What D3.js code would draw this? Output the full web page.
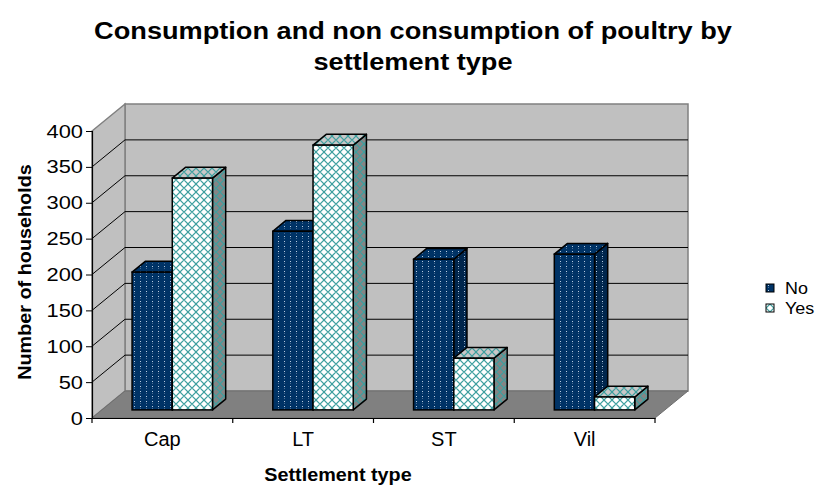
<!DOCTYPE html>
<html>
<head>
<meta charset="utf-8">
<script src="https://cdn.jsdelivr.net/npm/d3@7"></script>
<style>
  body { margin: 0; background: #fff; }
  text { font-family: "Liberation Sans", Arial, sans-serif; }
</style>
</head>
<body>
<div id="chart"></div>
<script>
const w = 826;
const h = 492;

// data
const categories = ["Cap", "LT", "ST", "Vil"];
const seriesNames = ["No", "Yes"];
const noValues = [192, 249, 210, 217];
const yesValues = [323, 369, 72, 18];
const yTicks = [0, 50, 100, 150, 200, 250, 300, 350, 400];

// 3d depth offset of the plot box
const DX = 33;
const DY = -27;
const barD1 = 0.3;
const barD2 = 0.7;

let svg = d3.select('#chart')
	.append('svg')
		.attr('width', w)
		.attr('height', h);

let xScale = d3.scaleBand()
	.domain(categories)
	.range([92, 655])
	.padding(0);

let xInner = d3.scaleBand()
	.domain(seriesNames)
	.range([0, xScale.bandwidth()])
	.paddingInner(0)
	.paddingOuter(0.75);

let yScale = d3.scaleLinear()
	.domain([0, 400])
	.range([418, 131]);

function proj(x, v, d) {
	return [x + d * DX, yScale(v) + d * DY];
}

// excel text is drawn a bit wider than the font
function stretch(sel, k) {
	sel.each(function() {
		const len = this.getComputedTextLength();
		d3.select(this)
			.attr('textLength', len * k)
			.attr('lengthAdjust', 'spacingAndGlyphs');
	});
}

// patterns
let defs = svg.append('defs');

function dotPattern(id, bg) {
	let p = defs.append('pattern')
		.attr('id', id)
		.attr('patternUnits', 'userSpaceOnUse')
		.attr('width', 6)
		.attr('height', 5);
	p.append('rect').attr('width', 6).attr('height', 5).attr('fill', bg);
	p.append('rect').attr('x', 2).attr('y', 1).attr('width', 1).attr('height', 1).attr('fill', '#b8cce0');
	p.append('rect').attr('x', 2).attr('y', 3).attr('width', 1).attr('height', 1).attr('fill', '#4a6a90');
}

function latticePattern(id, bg) {
	let p = defs.append('pattern')
		.attr('id', id)
		.attr('patternUnits', 'userSpaceOnUse')
		.attr('width', 8)
		.attr('height', 8);
	p.append('rect').attr('width', 8).attr('height', 8).attr('fill', bg);
	p.append('path')
		.attr('d', 'M0,4 L4,0 L8,4 L4,8 Z')
		.attr('fill', 'none')
		.attr('stroke', '#3d9f9f')
		.attr('stroke-width', 1.2);
}

dotPattern('noFront', '#003366');
dotPattern('noTop', '#003366');
dotPattern('noSide', '#00264d');
latticePattern('yesFront', '#ffffff');
latticePattern('yesTop', '#c8c8c8');
latticePattern('yesSide', '#858585');

const fills = {
	No: { front: 'url(#noFront)', top: 'url(#noTop)', side: 'url(#noSide)' },
	Yes: { front: 'url(#yesFront)', top: 'url(#yesTop)', side: 'url(#yesSide)' }
};

// walls and floor
const x0 = xScale.range()[0];
const x1 = xScale.range()[1];

svg.append('polygon')
	.attr('points', [proj(x0, 0, 1), proj(x1, 0, 1), proj(x1, 400, 1), proj(x0, 400, 1)].join(' '))
	.attr('fill', '#c0c0c0')
	.attr('stroke', '#808080')
	.attr('stroke-width', 1.5);

svg.append('polygon')
	.attr('points', [proj(x0, 0, 0), proj(x0, 0, 1), proj(x0, 400, 1), proj(x0, 400, 0)].join(' '))
	.attr('fill', '#c0c0c0')
	.attr('stroke', '#808080')
	.attr('stroke-width', 1.5);

svg.append('polygon')
	.attr('points', [proj(x0, 0, 0), proj(x1, 0, 0), proj(x1, 0, 1), proj(x0, 0, 1)].join(' '))
	.attr('fill', '#808080')
	.attr('stroke', '#6e6e6e')
	.attr('stroke-width', 1);

// gridlines on back wall and side wall
const gridVals = yTicks.filter((t) => t > 0 && t < 400);
svg.selectAll('line.grid')
	.data(gridVals)
	.enter()
	.append('line')
	.attr('class', 'grid')
	.attr('x1', x0 + DX)
	.attr('x2', x1 + DX)
	.attr('y1', (d) => yScale(d) + DY)
	.attr('y2', (d) => yScale(d) + DY)
	.attr('stroke', '#000')
	.attr('stroke-width', 1);

svg.selectAll('line.side')
	.data(gridVals)
	.enter()
	.append('line')
	.attr('class', 'side')
	.attr('x1', x0)
	.attr('x2', x0 + DX)
	.attr('y1', (d) => yScale(d))
	.attr('y2', (d) => yScale(d) + DY)
	.attr('stroke', '#000')
	.attr('stroke-width', 1);

// bars
let bars = [];
categories.forEach((c, i) => {
	bars.push({ cat: c, series: 'No', value: noValues[i] });
	bars.push({ cat: c, series: 'Yes', value: yesValues[i] });
});

let barG = svg.selectAll('g.bar')
	.data(bars)
	.enter()
	.append('g')
	.attr('class', 'bar');

barG.each(function(d) {
	const g = d3.select(this);
	const xl = xScale(d.cat) + xInner(d.series);
	const xr = xl + xInner.bandwidth();
	const f = fills[d.series];
	// side face
	g.append('polygon')
		.attr('points', [proj(xr, d.value, barD1), proj(xr, d.value, barD2), proj(xr, 0, barD2), proj(xr, 0, barD1)].join(' '))
		.attr('fill', f.side)
		.attr('stroke', '#000')
		.attr('stroke-width', 1.5)
		.attr('stroke-linejoin', 'round');
	// top face
	g.append('polygon')
		.attr('points', [proj(xl, d.value, barD1), proj(xr, d.value, barD1), proj(xr, d.value, barD2), proj(xl, d.value, barD2)].join(' '))
		.attr('fill', f.top)
		.attr('stroke', '#000')
		.attr('stroke-width', 1.5)
		.attr('stroke-linejoin', 'round');
	// front face
	const p0 = proj(xl, d.value, barD1);
	const p1 = proj(xr, 0, barD1);
	g.append('rect')
		.attr('x', p0[0])
		.attr('y', p0[1])
		.attr('width', p1[0] - p0[0])
		.attr('height', p1[1] - p0[1])
		.attr('fill', f.front)
		.attr('stroke', '#000')
		.attr('stroke-width', 1.5);
});

// axes
let yAxis = svg.append('g')
	.attr('transform', 'translate(' + x0 + ',0)')
	.call(d3.axisLeft(yScale).tickValues(yTicks).tickSize(6).tickPadding(3));
yAxis.select('.domain').attr('stroke', '#000').attr('stroke-width', 1.2);
yAxis.selectAll('text').attr('font-size', 19).attr('fill', '#000').call(stretch, 1.15);

let xAxis = svg.append('g')
	.attr('transform', 'translate(0,' + yScale(0) + ')')
	.call(d3.axisBottom(xScale).tickSize(0).tickPadding(14));
xAxis.select('.domain').attr('stroke', '#000').attr('stroke-width', 1.2);
xAxis.selectAll('text').attr('font-size', 20).attr('fill', '#000');

// category boundary ticks
const bounds = categories.map((c) => xScale(c)).concat([x1]);
svg.selectAll('line.xtick')
	.data(bounds)
	.enter()
	.append('line')
	.attr('class', 'xtick')
	.attr('x1', (d) => d)
	.attr('x2', (d) => d)
	.attr('y1', yScale(0))
	.attr('y2', yScale(0) + 5)
	.attr('stroke', '#000')
	.attr('stroke-width', 1.2);

// titles
svg.append('text')
	.attr('x', 413)
	.attr('y', 39)
	.attr('text-anchor', 'middle')
	.attr('font-size', 23)
	.attr('font-weight', 'bold')
	.text('Consumption and non consumption of poultry by')
	.call(stretch, 1.18);

svg.append('text')
	.attr('x', 413)
	.attr('y', 70)
	.attr('text-anchor', 'middle')
	.attr('font-size', 23)
	.attr('font-weight', 'bold')
	.text('settlement type')
	.call(stretch, 1.18);

svg.append('text')
	.attr('x', 338)
	.attr('y', 481)
	.attr('text-anchor', 'middle')
	.attr('font-size', 18)
	.attr('font-weight', 'bold')
	.text('Settlement type')
	.call(stretch, 1.1);

svg.append('text')
	.attr('transform', 'translate(31,272) rotate(-90)')
	.attr('text-anchor', 'middle')
	.attr('font-size', 18)
	.attr('font-weight', 'bold')
	.text('Number of households')
	.call(stretch, 1.1);

// legend
let legend = svg.selectAll('g.legend')
	.data(seriesNames)
	.enter()
	.append('g')
	.attr('class', 'legend')
	.attr('transform', (d, i) => 'translate(766,' + (284 + i * 20) + ')');

legend.append('rect')
	.attr('width', 8)
	.attr('height', 8)
	.attr('fill', (d) => fills[d].front)
	.attr('stroke', '#000')
	.attr('stroke-width', 1);

legend.append('text')
	.attr('x', 19)
	.attr('y', 4)
	.attr('dy', '0.36em')
	.attr('font-size', 16)
	.text((d) => d)
	.call(stretch, 1.12);
</script>
</body>
</html>
